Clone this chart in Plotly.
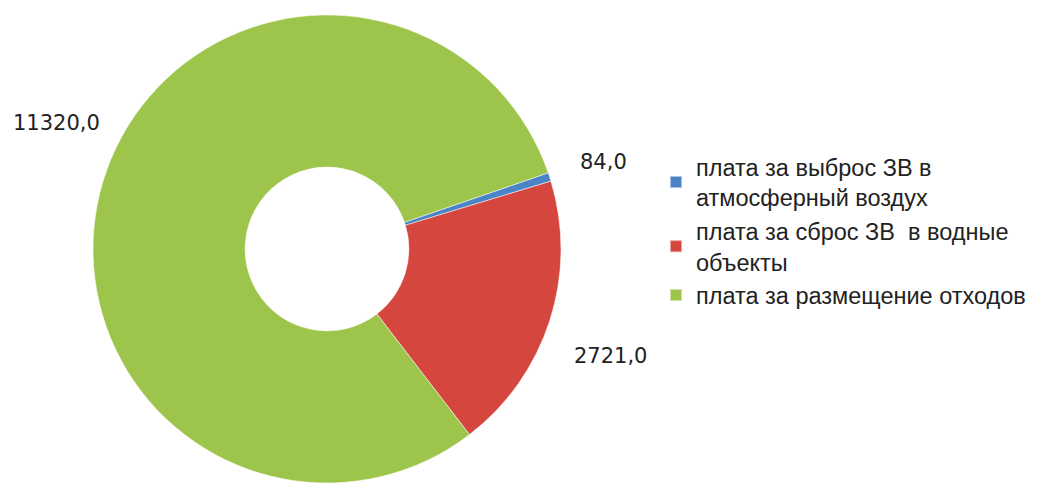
import math
import plotly.graph_objects as go

categories = [
    "плата за выброс ЗВ в<br>атмосферный воздух",
    "плата за сброс ЗВ  в водные<br>объекты",
    "плата за размещение отходов",
]
values = [84.0, 2721.0, 11320.0]
value_labels = ["84,0", "2721,0", "11320,0"]
colors = ["#4A84C6", "#D5463F", "#9EC54B"]

# styling: per-label pixel nudges from the default mid-angle placement
label_nudge = [(-8, -19), (-1, 25), (-46, -63)]

W, H = 1041, 483
dom_x = [85 / W, 553 / W]
dom_y = [1 - 475 / H, 1 - 7 / H]
rotation = 71

fig = go.Figure(go.Pie(
    labels=categories,
    values=values,
    hole=0.35,
    sort=False,
    direction="clockwise",
    rotation=rotation,
    marker=dict(colors=colors, line=dict(color="rgba(255,255,255,0.5)", width=1)),
    textinfo="none",
    hoverinfo="label+value",
    domain=dict(x=dom_x, y=dom_y),
))

# value labels placed outside, at each slice's mid-angle
total = sum(values)
cx = 327
cy = 248
R = 234
start = rotation
for v, lab, (nx, ny) in zip(values, value_labels, label_nudge):
    span = v / total * 360
    mid = math.radians(start + span / 2)
    start += span
    r = R * 1.24
    px = cx + r * math.sin(mid) + nx
    py = cy - r * math.cos(mid) + ny
    fig.add_annotation(
        x=px / W, y=1 - py / H, xref="paper", yref="paper",
        text=lab, showarrow=False,
        font=dict(family="DejaVu Sans", size=21, color="#222222"),
    )

fig.update_layout(
    width=W, height=H,
    margin=dict(l=0, r=0, t=0, b=0),
    paper_bgcolor="white",
    plot_bgcolor="white",
    showlegend=True,
    legend=dict(
        x=648 / W, y=1 - 137 / H, xanchor="left", yanchor="top",
        font=dict(family="Liberation Sans", size=23.5, color="#222222"),
        itemsizing="constant",
    ),
)

fig.write_html("out.html")
